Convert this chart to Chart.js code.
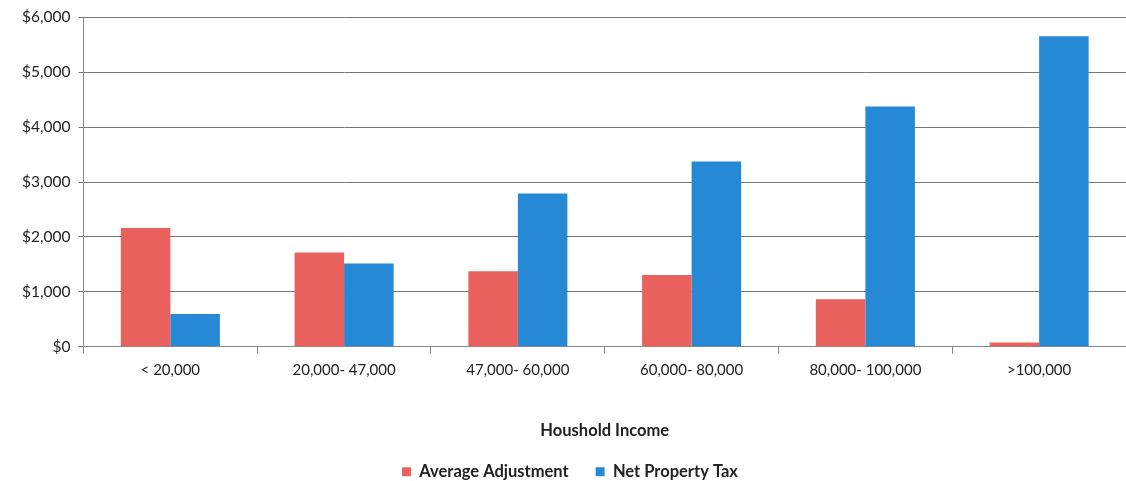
<!DOCTYPE html>
<html>
<head>
<meta charset="utf-8">
<script src="https://cdn.jsdelivr.net/npm/chart.js@4"></script>
<style>
  html, body { margin: 0; padding: 0; background: #fff; }
  #wrap { width: 1126px; height: 481px; }
</style>
</head>
<body>
<div id="wrap"><canvas id="myChart"></canvas></div>
<script>
var categories = ["< 20,000", "20,000- 47,000", "47,000- 60,000", "60,000- 80,000", "80,000- 100,000", ">100,000"];
var avgAdjustment = [2160, 1715, 1375, 1305, 865, 75];
var netPropertyTax = [595, 1515, 2790, 3375, 4375, 5655];
var yTicks = [0, 1000, 2000, 3000, 4000, 5000, 6000];

var fontFamily = "Lato, 'Open Sans', sans-serif";

var ctx = document.getElementById("myChart").getContext('2d');
var myChart = new Chart(ctx, {
  type: 'bar',
  data: {
    labels: categories,
    datasets: [{
      label: "Average Adjustment",
      backgroundColor: "#e9615d",
      data: avgAdjustment
    }, {
      label: "Net Property Tax",
      backgroundColor: "#2589d6",
      data: netPropertyTax
    }]
  },
  options: {
    responsive: true,
    maintainAspectRatio: false,
    animation: false,
    layout: { padding: { top: 9, right: 0, left: 14, bottom: -9 } },
    datasets: { bar: { categoryPercentage: 0.57, barPercentage: 1.0 } },
    plugins: {
      tooltip: { enabled: false },
      legend: {
        position: 'bottom',
        labels: {
          boxWidth: 9,
          boxHeight: 9,
          padding: 27,
          color: '#222',
          font: { family: fontFamily, size: 16.5, weight: 'bold' }
        }
      }
    },
    scales: {
      x: {
        grid: { display: true, drawOnChartArea: false, offset: true, tickLength: 7, color: '#888' },
        border: { color: '#888' },
        ticks: { color: '#222', padding: 7, font: { family: fontFamily, size: 15 } },
        title: {
          display: true,
          text: "Houshold Income",
          color: '#222',
          padding: { top: 35, bottom: -4 },
          font: { family: fontFamily, size: 16.5, weight: 'bold' }
        }
      },
      y: {
        min: 0,
        max: 6000,
        afterBuildTicks: function(axis) {
          axis.ticks = yTicks.map(function(v) { return { value: v }; });
        },
        grid: { color: '#777', tickLength: 5 },
        border: { color: '#888' },
        ticks: {
          color: '#222',
          padding: 8,
          font: { family: fontFamily, size: 15.5 },
          callback: function(v) { return '$' + Number(v).toLocaleString('en-US'); }
        }
      }
    }
  }
});
</script>
</body>
</html>
